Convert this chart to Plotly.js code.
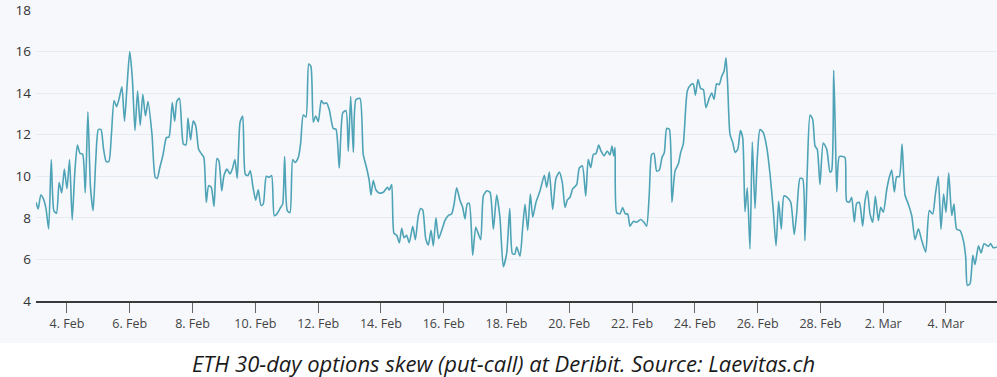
<!DOCTYPE html>
<html>
<head>
<meta charset="utf-8">
<script src="https://cdn.plot.ly/plotly-3.0.1.min.js"></script>
<style>html,body{margin:0;padding:0;background:#fff;}#chart{width:997px;height:377px;}</style>
</head>
<body>
<div id="chart"></div>
<script>
const times = ["02-03 00:20","02-03 02:00","02-03 04:00","02-03 06:00","02-03 08:00","02-03 10:00","02-03 12:00","02-03 14:00","02-03 16:00","02-03 18:00","02-03 20:00","02-03 22:00",
"02-04 00:00","02-04 02:00","02-04 04:00","02-04 06:00","02-04 08:00","02-04 10:00","02-04 12:00","02-04 14:00","02-04 16:00","02-04 18:00","02-04 20:00","02-04 22:00",
"02-05 00:00","02-05 02:00","02-05 04:00","02-05 06:00","02-05 08:00","02-05 10:00","02-05 12:00","02-05 14:00","02-05 16:00","02-05 18:00","02-05 20:00","02-05 22:00",
"02-06 00:00","02-06 02:00","02-06 04:00","02-06 06:00","02-06 08:00","02-06 10:00","02-06 12:00","02-06 14:00","02-06 17:00","02-06 19:30","02-06 21:00","02-06 23:00",
"02-07 01:30","02-07 04:00","02-07 06:00","02-07 08:30","02-07 10:20","02-07 12:00","02-07 14:00","02-07 17:00","02-07 19:00","02-07 20:30","02-07 22:30",
"02-08 00:30","02-08 02:30","02-08 04:40","02-08 07:00","02-08 08:40","02-08 10:30","02-08 12:20","02-08 14:20","02-08 16:25","02-08 18:40","02-08 20:10","02-08 22:20",
"02-09 00:00","02-09 02:20","02-09 04:40","02-09 06:25","02-09 08:25","02-09 10:10","02-09 12:20","02-09 14:20","02-09 16:20","02-09 18:25","02-09 20:10","02-09 22:10",
"02-10 00:15","02-10 02:15","02-10 04:20","02-10 06:05","02-10 08:25","02-10 10:40","02-10 12:30","02-10 14:30","02-10 16:35","02-10 19:25","02-10 20:55","02-10 22:25",
"02-11 00:25","02-11 02:30","02-11 04:35","02-11 06:30","02-11 08:50","02-11 10:40","02-11 12:40","02-11 14:45","02-11 16:50","02-11 18:30","02-11 20:20","02-11 22:10",
"02-12 00:10","02-12 02:25","02-12 04:15","02-12 06:30","02-12 08:30","02-12 11:35","02-12 13:40","02-12 16:10","02-12 18:50","02-12 21:20","02-12 23:05",
"02-13 00:55","02-13 02:55","02-13 04:55","02-13 08:00","02-13 10:30","02-13 13:05","02-13 15:05","02-13 16:25","02-13 18:10","02-13 20:15","02-13 22:45",
"02-14 01:50","02-14 04:55","02-14 06:25","02-14 08:15","02-14 10:00","02-14 12:05","02-14 14:05","02-14 15:55","02-14 17:40","02-14 19:40","02-14 21:40",
"02-15 00:20","02-15 02:20","02-15 04:35","02-15 06:25","02-15 08:00","02-15 10:15","02-15 12:15","02-15 14:20","02-15 16:05","02-15 18:05","02-15 20:10","02-15 22:30",
"02-16 01:00","02-16 03:30","02-16 06:05","02-16 07:55","02-16 09:55","02-16 12:30","02-16 14:30","02-16 16:15","02-16 18:00","02-16 19:35","02-16 22:10",
"02-17 00:30","02-17 02:30","02-17 04:20","02-17 06:20","02-17 08:55","02-17 11:25","02-17 14:00","02-17 16:30","02-17 19:00","02-17 21:35",
"02-18 00:10","02-18 02:30","02-18 04:30","02-18 06:20","02-18 07:50","02-18 10:20","02-18 12:25","02-18 14:10","02-18 16:15","02-18 18:15","02-18 20:05","02-18 22:35",
"02-19 01:40","02-19 04:55","02-19 06:45","02-19 08:45","02-19 11:20","02-19 13:50","02-19 16:25","02-19 18:40","02-19 20:45","02-19 22:30",
"02-20 00:35","02-20 02:35","02-20 05:40","02-20 07:40","02-20 10:00","02-20 12:35","02-20 14:30","02-20 16:25","02-20 18:25","02-20 20:25","02-20 22:30",
"02-21 00:15","02-21 02:35","02-21 05:05","02-21 07:05","02-21 08:40","02-21 10:00","02-21 11:00","02-21 12:15","02-21 14:50","02-21 16:50","02-21 18:50","02-21 20:40","02-21 22:25",
"02-22 01:00","02-22 03:35","02-22 06:35","02-22 09:05","02-22 11:10","02-22 13:10","02-22 15:00","02-22 16:45","02-22 18:50","02-22 20:50","02-22 22:55",
"02-23 00:40","02-23 02:30","02-23 04:30","02-23 06:30","02-23 08:50","02-23 11:25","02-23 13:10","02-23 15:10","02-23 18:15","02-23 20:50","02-23 22:50",
"02-24 00:25","02-24 02:25","02-24 04:30","02-24 06:30","02-24 08:30","02-24 11:05","02-24 12:55","02-24 14:40","02-24 16:40","02-24 18:40","02-24 20:30","02-24 22:20","02-24 23:50",
"02-25 01:05","02-25 02:55","02-25 05:00","02-25 06:45","02-25 08:50","02-25 10:50","02-25 12:35","02-25 14:20","02-25 16:05","02-25 18:10","02-25 19:55","02-25 22:00","02-25 23:45",
"02-26 01:50","02-26 04:20","02-26 07:00","02-26 09:30","02-26 12:00","02-26 14:05","02-26 16:05","02-26 18:05","02-26 20:10","02-26 22:40",
"02-27 01:20","02-27 04:00","02-27 05:55","02-27 08:25","02-27 10:30","02-27 12:10","02-27 14:00","02-27 16:05","02-27 18:05","02-27 19:55","02-27 21:35","02-27 23:40",
"02-28 02:10","02-28 04:50","02-28 07:20","02-28 08:35","02-28 10:10","02-28 11:25","02-28 12:30","02-28 14:25","02-28 17:00","02-28 18:50","02-28 20:05","02-28 22:05","02-28 23:55",
"03-01 01:55","03-01 03:45","03-01 05:45","03-01 08:20","03-01 10:05","03-01 11:55","03-01 13:55","03-01 16:00","03-01 18:00","03-01 20:20","03-01 22:05",
"03-02 00:05","03-02 02:40","03-02 04:40","03-02 06:30","03-02 08:30","03-02 10:20","03-02 12:20","03-02 14:25","03-02 16:40","03-02 19:10","03-02 21:50",
"03-03 00:20","03-03 02:55","03-03 05:25","03-03 08:30","03-03 11:15","03-03 13:50","03-03 15:50","03-03 18:05","03-03 20:10","03-03 22:10",
"03-04 00:00","03-04 02:05","03-04 04:25","03-04 06:05","03-04 08:10","03-04 10:45","03-04 13:15","03-04 15:05","03-04 16:20","03-04 18:25","03-04 20:30","03-04 22:10",
"03-05 00:50","03-05 02:50","03-05 05:05","03-05 08:25","03-05 10:10","03-05 12:10","03-05 14:50"];

const skew = [8.75,8.43,9.1,8.91,8.43,7.47,10.8,8.35,8.22,9.7,9.2,10.35,
9.4,10.8,7.9,10.19,11.5,11.1,11.06,9.2,13.1,9.47,8.35,10.75,
12.25,12.25,11.3,10.7,10.7,12.02,13.65,13.35,13.77,14.3,12.65,14.41,
16.0,14.7,12.2,14.1,12.45,13.95,12.9,13.6,12.02,9.95,9.9,10.42,
11.05,11.86,11.89,13.55,12.65,13.61,13.75,11.55,11.51,12.8,11.75,
12.66,12.42,11.3,11.06,10.9,8.75,9.55,9.47,8.55,10.85,10.74,9.3,
10.03,10.35,10.11,10.35,10.8,9.9,12.6,12.9,10.1,10.03,10.27,9.5,
8.85,9.35,8.6,8.67,10.0,9.95,10.03,8.1,8.19,8.51,8.67,10.95,
8.35,8.25,10.8,10.66,10.9,11.6,12.95,12.85,15.4,15.29,12.6,12.9,
12.63,13.65,13.49,13.53,13.21,12.3,12.26,10.4,13.05,13.16,11.2,
13.85,11.15,13.69,13.75,11.05,10.4,9.79,9.1,9.8,9.34,9.2,
9.23,9.47,9.34,9.6,7.25,7.16,6.8,7.5,7.04,7.16,6.8,
7.59,6.95,8.1,8.45,8.38,7.0,6.7,7.4,6.65,8.0,7.0,7.4,
7.88,8.11,8.19,8.65,9.45,8.83,8.51,7.95,8.67,8.7,6.2,
7.55,7.23,6.95,9.05,9.3,9.23,7.45,9.1,8.03,5.65,
6.3,8.45,6.28,6.25,6.6,6.15,7.55,8.65,7.4,9.15,8.03,8.75,
9.3,10.05,9.47,10.2,8.4,9.9,10.2,9.71,8.5,8.86,
8.99,9.39,9.6,10.4,10.5,9.05,10.8,10.42,11.05,11.09,11.5,
11.22,10.98,11.22,11.03,11.45,10.98,11.38,8.25,8.2,8.5,8.19,8.19,7.6,
7.83,7.79,7.92,7.79,7.6,9.15,11.05,11.1,10.25,10.3,10.9,
11.14,12.3,12.26,8.75,10.25,10.6,11.14,11.55,14.1,14.4,14.44,
13.9,14.65,14.22,14.17,13.3,13.77,14.01,13.7,14.45,14.41,14.8,15.05,15.7,
14.41,12.0,11.62,11.15,11.3,12.2,11.86,8.3,9.45,6.5,11.65,8.45,10.9,
12.25,12.1,11.38,10.1,8.35,6.65,8.8,7.45,9.05,8.99,
8.75,7.2,8.27,9.9,9.87,6.9,10.35,12.95,12.74,11.45,11.3,9.6,
11.6,11.3,10.2,10.27,15.1,12.1,9.25,10.95,10.95,10.9,8.8,8.75,8.99,
7.8,8.7,8.75,7.6,8.8,9.3,8.19,7.79,9.05,7.87,8.51,
8.27,9.34,9.95,10.3,9.25,9.98,9.98,11.55,9.1,8.67,8.1,
6.95,7.47,6.92,6.35,8.35,8.19,9.1,10.0,7.45,9.15,
8.27,10.15,8.11,8.67,7.45,7.39,6.92,6.1,4.75,4.84,6.2,5.75,
6.65,6.31,6.75,6.63,6.76,6.56,6.6];

const yTicks = [4, 6, 8, 10, 12, 14, 16, 18];
const caption = "ETH 30-day options skew (put-call) at Deribit. Source: Laevitas.ch";
const year = "2022-";

const bg = "#f6f8fc";
const trace = {
  x: times.map(t => year + t),
  y: skew,
  type: "scatter",
  mode: "lines",
  line: {color: "#4ea3b6", width: 1.6, shape: "spline", smoothing: 0.6},
  hoverinfo: "skip"
};

// plot area: y=4 at 301px, y=18 at ~10px
const pxPerUnit = 291 / 14;
const topMargin = 9;
const yTop = 18 + 1 / pxPerUnit;
const plotH = 301 - topMargin;
const layout = {
  width: 997, height: 377,
  margin: {l: 36, r: 0, t: topMargin, b: 76, pad: 0},
  paper_bgcolor: "#ffffff",
  plot_bgcolor: bg,
  showlegend: false,
  font: {family: "Open Sans, sans-serif", color: "#333"},
  xaxis: {
    type: "date",
    range: [year + "02-03 00:20", year + "03-05 15:00"],
    tick0: year + "02-04",
    dtick: 2 * 86400000,
    tickformat: "%-d. %b",
    showgrid: false,
    showline: true, linecolor: "#3a3a3a", linewidth: 1.5,
    ticks: "outside", ticklen: 10, tickcolor: "#666", tickwidth: 1,
    tickfont: {family: "Open Sans, sans-serif", size: 12.5, color: "#444"},
    zeroline: false,
    fixedrange: true
  },
  yaxis: {
    range: [4, yTop],
    tickvals: yTicks,
    ticktext: yTicks.map(String),
    showgrid: true, gridcolor: "#e6ecf4", gridwidth: 1,
    zeroline: false, showline: false,
    ticks: "",
    ticklabelstandoff: 4,
    ticklabeloverflow: "allow",
    tickfont: {family: "Open Sans, sans-serif", size: 13.5, color: "#333"},
    fixedrange: true
  },
  shapes: [{
    type: "rect", xref: "paper", yref: "paper",
    x0: -36/961, x1: 1.01, y0: -(343-301)/plotH, y1: 1 + topMargin/plotH + 0.01,
    fillcolor: bg, line: {width: 0}, layer: "below"
  }],
  annotations: [{
    xref: "paper", yref: "paper",
    x: (503 - 36)/961, y: -(363-301)/plotH,
    xanchor: "center", yanchor: "middle",
    text: caption, showarrow: false,
    font: {family: "Open Sans, sans-serif", size: 22, color: "#1a1a1a", style: "italic"}
  }]
};

Plotly.newPlot("chart", [trace], layout, {displayModeBar: false, staticPlot: true});
</script>
</body>
</html>
